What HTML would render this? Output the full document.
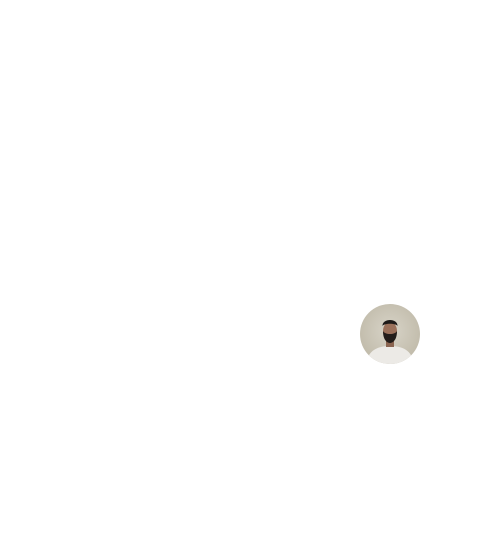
<!DOCTYPE html>
<html>
<head>
<meta charset="utf-8">
<style>
  html,body{margin:0;padding:0;background:#fff;width:502px;height:536px;overflow:hidden;}
  .avatar{position:absolute;left:360px;top:304px;width:60px;height:60px;}
</style>
</head>
<body>
<svg class="avatar" width="60" height="60" viewBox="0 0 60 60">
  <defs>
    <radialGradient id="bg" cx="50%" cy="45%" r="60%">
      <stop offset="0%" stop-color="#d8d4c8"/>
      <stop offset="100%" stop-color="#bfb9a8"/>
    </radialGradient>
    <clipPath id="c"><circle cx="30" cy="30" r="30"/></clipPath>
  </defs>
  <g clip-path="url(#c)">
    <rect width="60" height="60" fill="url(#bg)"/>
    <path d="M6 60 C8 46 18 42 30 42 C42 42 52 46 54 60 Z" fill="#eceae6"/>
    <rect x="26" y="34" width="8" height="9" fill="#8a6450"/>
    <ellipse cx="30" cy="27" rx="7" ry="9" fill="#9a705a"/>
    <path d="M22.5 22 C22 14 38 14 37.5 22 C36 19 24 19 22.5 22 Z" fill="#1e1a18"/>
    <path d="M23 27 C23 37 28 39 30 39 C32 39 37 37 37 27 C35 31 25 31 23 27 Z" fill="#231d1a"/>
  </g>
</svg>
</body>
</html>
